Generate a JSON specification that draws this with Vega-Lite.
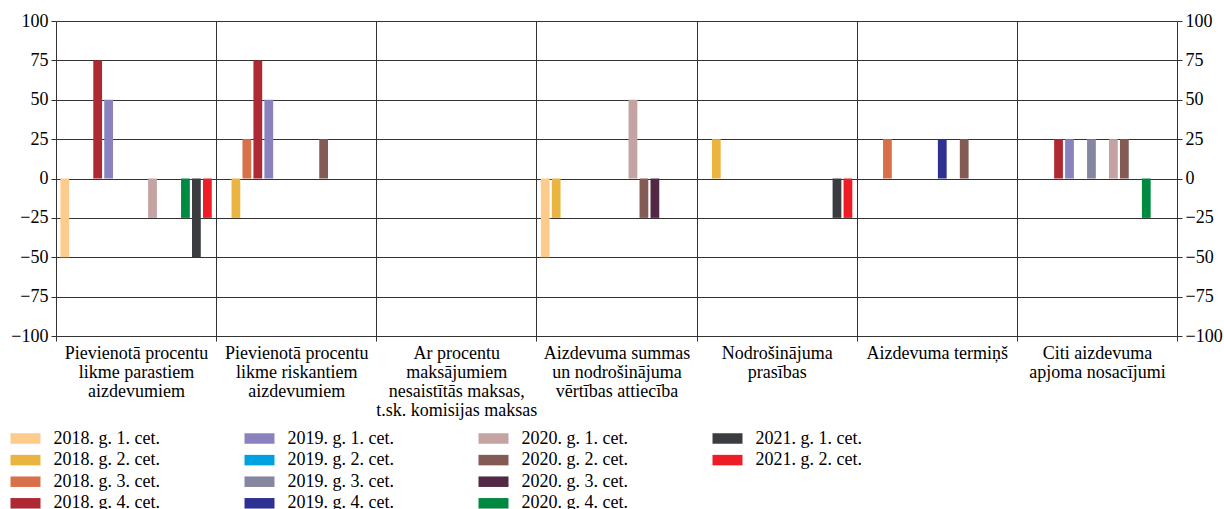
{
  "$schema": "https://vega.github.io/schema/vega-lite/v6.json",
  "width": 1121,
  "height": 315,
  "autosize": "none",
  "padding": {"left": 56, "top": 21, "right": 47, "bottom": 173},
  "background": "white",
  "config": {
    "view": {"stroke": null},
    "font": "Liberation Serif",
    "axis": {
      "labelFont": "Liberation Serif",
      "labelFontSize": 18,
      "labelColor": "black",
      "domainColor": "#333333",
      "tickColor": "#333333",
      "gridColor": "#333333",
      "gridOpacity": 1,
      "title": null
    },
    "legend": {
      "labelFont": "Liberation Serif",
      "labelFontSize": 18,
      "labelColor": "black"
    }
  },
  "data": {
    "values": [
      {"kategorija": "Pievienotā procentu likme parastiem aizdevumiem", "periods": "2018. g. 1. cet.", "vertiba": -50},
      {"kategorija": "Pievienotā procentu likme parastiem aizdevumiem", "periods": "2018. g. 4. cet.", "vertiba": 75},
      {"kategorija": "Pievienotā procentu likme parastiem aizdevumiem", "periods": "2019. g. 1. cet.", "vertiba": 50},
      {"kategorija": "Pievienotā procentu likme parastiem aizdevumiem", "periods": "2020. g. 1. cet.", "vertiba": -25},
      {"kategorija": "Pievienotā procentu likme parastiem aizdevumiem", "periods": "2020. g. 4. cet.", "vertiba": -25},
      {"kategorija": "Pievienotā procentu likme parastiem aizdevumiem", "periods": "2021. g. 1. cet.", "vertiba": -50},
      {"kategorija": "Pievienotā procentu likme parastiem aizdevumiem", "periods": "2021. g. 2. cet.", "vertiba": -25},
      {"kategorija": "Pievienotā procentu likme riskantiem aizdevumiem", "periods": "2018. g. 2. cet.", "vertiba": -25},
      {"kategorija": "Pievienotā procentu likme riskantiem aizdevumiem", "periods": "2018. g. 3. cet.", "vertiba": 25},
      {"kategorija": "Pievienotā procentu likme riskantiem aizdevumiem", "periods": "2018. g. 4. cet.", "vertiba": 75},
      {"kategorija": "Pievienotā procentu likme riskantiem aizdevumiem", "periods": "2019. g. 1. cet.", "vertiba": 50},
      {"kategorija": "Pievienotā procentu likme riskantiem aizdevumiem", "periods": "2020. g. 2. cet.", "vertiba": 25},
      {"kategorija": "Aizdevuma summas un nodrošinājuma vērtības attiecība", "periods": "2018. g. 1. cet.", "vertiba": -50},
      {"kategorija": "Aizdevuma summas un nodrošinājuma vērtības attiecība", "periods": "2018. g. 2. cet.", "vertiba": -25},
      {"kategorija": "Aizdevuma summas un nodrošinājuma vērtības attiecība", "periods": "2020. g. 1. cet.", "vertiba": 50},
      {"kategorija": "Aizdevuma summas un nodrošinājuma vērtības attiecība", "periods": "2020. g. 2. cet.", "vertiba": -25},
      {"kategorija": "Aizdevuma summas un nodrošinājuma vērtības attiecība", "periods": "2020. g. 3. cet.", "vertiba": -25},
      {"kategorija": "Nodrošinājuma prasības", "periods": "2018. g. 2. cet.", "vertiba": 25},
      {"kategorija": "Nodrošinājuma prasības", "periods": "2021. g. 1. cet.", "vertiba": -25},
      {"kategorija": "Nodrošinājuma prasības", "periods": "2021. g. 2. cet.", "vertiba": -25},
      {"kategorija": "Aizdevuma termiņš", "periods": "2018. g. 3. cet.", "vertiba": 25},
      {"kategorija": "Aizdevuma termiņš", "periods": "2019. g. 4. cet.", "vertiba": 25},
      {"kategorija": "Aizdevuma termiņš", "periods": "2020. g. 2. cet.", "vertiba": 25},
      {"kategorija": "Citi aizdevuma apjoma nosacījumi", "periods": "2018. g. 4. cet.", "vertiba": 25},
      {"kategorija": "Citi aizdevuma apjoma nosacījumi", "periods": "2019. g. 1. cet.", "vertiba": 25},
      {"kategorija": "Citi aizdevuma apjoma nosacījumi", "periods": "2019. g. 3. cet.", "vertiba": 25},
      {"kategorija": "Citi aizdevuma apjoma nosacījumi", "periods": "2020. g. 1. cet.", "vertiba": 25},
      {"kategorija": "Citi aizdevuma apjoma nosacījumi", "periods": "2020. g. 2. cet.", "vertiba": 25},
      {"kategorija": "Citi aizdevuma apjoma nosacījumi", "periods": "2020. g. 4. cet.", "vertiba": -25}
    ]
  },
  "layer": [
    {
      "mark": {"type": "bar", "strokeWidth": 0},
      "encoding": {
        "x": {
          "field": "kategorija",
          "type": "nominal",
          "scale": {
            "domain": [
              "Pievienotā procentu likme parastiem aizdevumiem",
              "Pievienotā procentu likme riskantiem aizdevumiem",
              "Ar procentu maksājumiem nesaistītās maksas, t.sk. komisijas maksas",
              "Aizdevuma summas un nodrošinājuma vērtības attiecība",
              "Nodrošinājuma prasības",
              "Aizdevuma termiņš",
              "Citi aizdevuma apjoma nosacījumi"
            ],
            "paddingInner": 0,
            "paddingOuter": 0
          },
          "axis": {
            "orient": "bottom",
            "grid": true,
            "tickBand": "extent",
            "tickSize": 5,
            "labelPadding": 3,
            "labelAngle": 0,
            "labelBaseline": "top",
            "labelLineHeight": 19,
            "labelLimit": 300,
            "labelOverlap": false,
            "domain": false,
            "labelExpr": "datum.value == 'Pievienotā procentu likme parastiem aizdevumiem' ? ['Pievienotā procentu', 'likme parastiem', 'aizdevumiem'] : datum.value == 'Pievienotā procentu likme riskantiem aizdevumiem' ? ['Pievienotā procentu', 'likme riskantiem', 'aizdevumiem'] : datum.value == 'Ar procentu maksājumiem nesaistītās maksas, t.sk. komisijas maksas' ? ['Ar procentu', 'maksājumiem', 'nesaistītās maksas,', 't.sk. komisijas maksas'] : datum.value == 'Aizdevuma summas un nodrošinājuma vērtības attiecība' ? ['Aizdevuma summas', 'un nodrošinājuma', 'vērtības attiecība'] : datum.value == 'Nodrošinājuma prasības' ? ['Nodrošinājuma', 'prasības'] : datum.value == 'Citi aizdevuma apjoma nosacījumi' ? ['Citi aizdevuma', 'apjoma nosacījumi'] : datum.label"
          }
        },
        "xOffset": {
          "field": "periods",
          "type": "nominal",
          "scale": {
            "domain": [
              "2018. g. 1. cet.", "2018. g. 2. cet.", "2018. g. 3. cet.", "2018. g. 4. cet.",
              "2019. g. 1. cet.", "2019. g. 2. cet.", "2019. g. 3. cet.", "2019. g. 4. cet.",
              "2020. g. 1. cet.", "2020. g. 2. cet.", "2020. g. 3. cet.", "2020. g. 4. cet.",
              "2021. g. 1. cet.", "2021. g. 2. cet."
            ],
            "paddingInner": 0.2,
            "paddingOuter": 0.4
          }
        },
        "y": {
          "field": "vertiba",
          "type": "quantitative",
          "scale": {"domain": [-100, 100], "nice": false},
          "axis": {
            "orient": "left",
            "values": [-100, -75, -50, -25, 0, 25, 50, 75, 100],
            "grid": true,
            "tickSize": 5,
            "labelPadding": 3,
            "domain": false
          }
        },
        "color": {
          "field": "periods",
          "type": "nominal",
          "scale": {
            "domain": [
              "2018. g. 1. cet.", "2018. g. 2. cet.", "2018. g. 3. cet.", "2018. g. 4. cet.",
              "2019. g. 1. cet.", "2019. g. 2. cet.", "2019. g. 3. cet.", "2019. g. 4. cet.",
              "2020. g. 1. cet.", "2020. g. 2. cet.", "2020. g. 3. cet.", "2020. g. 4. cet.",
              "2021. g. 1. cet.", "2021. g. 2. cet.", " "
            ],
            "range": [
              "#FDCB8B", "#E9B43F", "#D8704A", "#AF2933",
              "#8A82BF", "#00A1E1", "#85869F", "#2E3192",
              "#C5A3A3", "#845B54", "#532845", "#008941",
              "#3B3C40", "#EE1D25", "#ffffff"
            ]
          },
          "legend": {
            "orient": "none",
            "legendX": -39.5,
            "legendY": 408.5,
            "columns": 4,
            "title": null,
            "padding": 0,
            "symbolType": "M-2,-0.7H2V0.7H-2Z",
            "symbolSize": 225,
            "symbolStrokeWidth": 0,
            "labelOffset": 19,
            "columnPadding": 84,
            "rowPadding": 3.6,
            "gridAlign": "all",
            "labelLimit": 300
          }
        }
      }
    },
    {
      "mark": {"type": "rule", "opacity": 0},
      "encoding": {
        "y": {
          "field": "vertiba",
          "type": "quantitative",
          "axis": {
            "orient": "right",
            "values": [-100, -75, -50, -25, 0, 25, 50, 75, 100],
            "grid": false,
            "tickSize": 5,
            "labelPadding": 3,
            "domain": false
          }
        }
      }
    }
  ],
  "resolve": {"axis": {"y": "independent"}}
}
